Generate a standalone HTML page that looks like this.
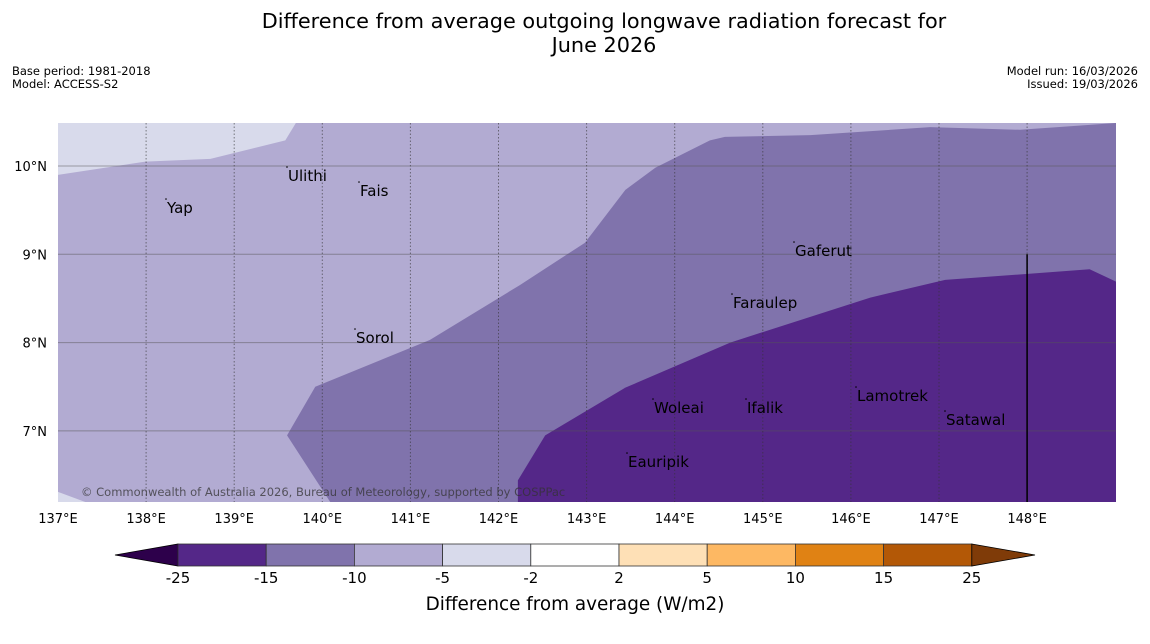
<!DOCTYPE html>
<html><head><meta charset="utf-8">
<style>
body{margin:0;background:#fff;width:1150px;height:644px;overflow:hidden;font-family:"DejaVu Sans","Liberation Sans",sans-serif;}
svg{display:block}
</style></head>
<body>
<svg id="chart" width="1150" height="644">
<text x="604" y="28" font-size="20.8" text-anchor="middle">Difference from average outgoing longwave radiation forecast for</text>
<text x="604" y="52" font-size="20.8" text-anchor="middle">June 2026</text>
<text x="12" y="75" font-size="11.5">Base period: 1981-2018</text>
<text x="12" y="88" font-size="11.5">Model: ACCESS-S2</text>
<text x="1138" y="75" font-size="11.5" text-anchor="end">Model run: 16/03/2026</text>
<text x="1138" y="88" font-size="11.5" text-anchor="end">Issued: 19/03/2026</text>
<g id="map"></g>
<g id="cbar"></g>
</svg>
<script>
const lonTicks=[137,138,139,140,141,142,143,144,145,146,147,148];
const latTicks=[7,8,9,10];
const bandColors=["#2d004b","#542788","#8073ac","#b2abd2","#d8daeb","#ffffff","#fee0b6","#fdb863","#e08214","#b35806","#7f3b08"];
const bandLabels=["-25","-15","-10","-5","-2","2","5","10","15","25"];
const regionLight=[[137,9.90],[137.99,10.05],[138.73,10.08],[139.58,10.29],[139.70,10.49],[137,10.49]];
const regionLight2=[[137,6.31],[137.31,6.19],[137,6.19]];
const regionMid=[[140.09,6.19],[139.60,6.95],[139.92,7.50],[141.22,8.03],[142.24,8.65],[142.98,9.13],[143.44,9.73],[143.78,9.98],[144.40,10.29],[144.57,10.33],[145.54,10.35],[146.90,10.44],[147.92,10.41],[149.01,10.49],[149.01,6.19]];
const regionDark=[[142.22,6.19],[142.22,6.44],[142.53,6.95],[143.44,7.49],[144.63,8.00],[146.22,8.51],[147.07,8.71],[148.71,8.83],[149.01,8.69],[149.01,6.19]];
const places=[["Yap",167,208],["Ulithi",288,176],["Fais",360,191],["Gaferut",795,251],["Faraulep",733,303],["Sorol",356,338],["Lamotrek",857,396],["Woleai",654,408],["Ifalik",747,408],["Satawal",946,420],["Eauripik",628,462]];

const NS="http://www.w3.org/2000/svg";
const L=58,R=1116,T=123,B=502;
const X=lon=>58+(lon-137)*88.1;
const Y=lat=>166-(lat-10)*88.3;
function mk(tag,attrs,parent){const e=document.createElementNS(NS,tag);for(const k in attrs)e.setAttribute(k,attrs[k]);parent.appendChild(e);return e;}
const map=document.getElementById('map');
const bg=mk('rect',{x:L,y:T,width:R-L,height:B-T,fill:"#b2abd2"},map);


function poly(pts,fill,name){const p=mk('polygon',{points:pts.map(q=>Math.max(L,Math.min(R,X(q[0])))+","+Math.max(T,Math.min(B,Y(q[1])))).join(" "),fill:fill},map);

}
poly(regionLight,bandColors[4],'region-minus5-to-minus2');
poly(regionLight2,bandColors[4],'region-minus5-to-minus2-south');
poly(regionMid,bandColors[2],'region-minus15-to-minus10');
poly(regionDark,bandColors[1],'region-minus25-to-minus15');
latTicks.forEach(v=>{const l=mk('line',{x1:L,x2:R,y1:Y(v),y2:Y(v),stroke:"#555",'stroke-opacity':0.5,'stroke-width':1},map);


const t=mk('text',{x:47,y:Y(v)+5,'font-size':13,'text-anchor':'end'},map);t.textContent=v+"°N";

});
lonTicks.forEach(v=>{if(v>137){const l=mk('line',{x1:X(v),x2:X(v),y1:T,y2:B,stroke:"#333",'stroke-opacity':0.6,'stroke-dasharray':'1.5,2','stroke-width':1},map);

}
const t=mk('text',{x:X(v),y:523,'font-size':13,'text-anchor':'middle'},map);t.textContent=v+"°E";

});
const vl=mk('line',{x1:X(148),x2:X(148),y1:Y(9),y2:B,stroke:"#000",'stroke-width':1.5},map);


places.forEach(p=>{const t=mk('text',{x:p[1],y:p[2]+5,'font-size':15},map);t.textContent=p[0];


const d=mk('circle',{cx:p[1]-1,cy:p[2]-9,r:0.8,fill:"#000"},map);

});
const cp=mk('text',{x:81,y:496,'font-size':11.5,fill:"#333",'fill-opacity':0.75},map);cp.textContent="© Commonwealth of Australia 2026, Bureau of Meteorology, supported by COSPPac";



const cb=document.getElementById('cbar');
const cx0=178,cw=88.2,cy=544,ch=22;
const lt=mk('polygon',{points:`115,555 ${cx0},${cy} ${cx0},${cy+ch}`,fill:bandColors[0],stroke:"#000",'stroke-width':0.8},cb);


for(let i=1;i<bandColors.length-1;i++){const r=mk('rect',{x:cx0+(i-1)*cw,y:cy,width:cw,height:ch,fill:bandColors[i],stroke:"#333",'stroke-width':0.8},cb);

}
const xe=cx0+9*cw;
const rt=mk('polygon',{points:`${xe},${cy} 1035,555 ${xe},${cy+ch}`,fill:bandColors[10],stroke:"#000",'stroke-width':0.8},cb);


bandLabels.forEach((s,i)=>{const t=mk('text',{x:cx0+i*cw,y:583,'font-size':15,'text-anchor':'middle'},cb);t.textContent=s;

});
const ct=mk('text',{x:575,y:610,'font-size':18.4,'text-anchor':'middle'},cb);ct.textContent="Difference from average (W/m2)";


</script>
</body></html>
